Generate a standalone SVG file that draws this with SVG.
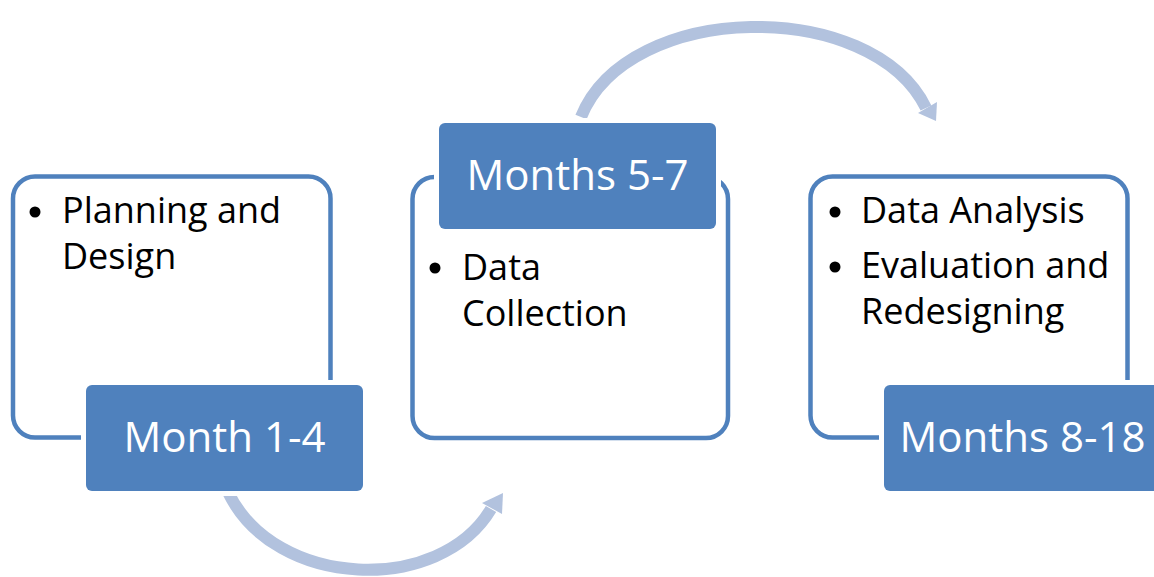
<svg xmlns="http://www.w3.org/2000/svg" width="1154" height="577" viewBox="0 0 1154 577">
  <defs>
    <style>
      .outer { fill: #FFFFFF; stroke: #4F81BD; stroke-width: 4.5; }
      .label { fill: #4F81BD; stroke: #FFFFFF; stroke-width: 10; paint-order: stroke; }
      .ltext { font-family: "Open Sans", "DejaVu Sans", sans-serif; font-size: 42px; fill: #FFFFFF; text-anchor: middle; }
      .btext { font-family: "Open Sans", "DejaVu Sans", sans-serif; font-size: 36px; fill: #000000; }
      .bullet { fill: #000000; }
      .shaft { fill: none; stroke: #B2C2DE; stroke-width: 12; }
      .head { fill: #B2C2DE; }
    </style>
  </defs>
  <rect width="1154" height="577" fill="#FFFFFF"/>

  <g id="connectors">
    <path class="shaft" d="M 228 492 C 275 590, 440 595, 491 509"/>
    <polygon class="head" points="503,493 482,503 502,514"/>
    <path class="shaft" d="M 581 117 C 628 0, 872 -3, 926 108"/>
    <polygon class="head" points="936,121 918,113 937,102"/>
  </g>

  <g id="node-1">
    <rect class="outer" x="13" y="176.5" width="317.5" height="261" rx="22"/>
    <circle class="bullet" cx="35" cy="212" r="5.5"/>
    <text class="btext" x="62" y="223">Planning and</text>
    <text class="btext" x="62" y="269">Design</text>
    <rect class="label" x="86" y="385" width="277" height="106" rx="6"/>
    <text class="ltext" x="224.5" y="452">Month 1-4</text>
  </g>

  <g id="node-2">
    <rect class="outer" x="412.5" y="177" width="315.5" height="261" rx="22"/>
    <circle class="bullet" cx="435" cy="268" r="5.5"/>
    <text class="btext" x="462" y="280">Data</text>
    <text class="btext" x="462" y="326">Collection</text>
    <rect class="label" x="439" y="123" width="277" height="106" rx="6"/>
    <text class="ltext" x="577.5" y="190">Months 5-7</text>
  </g>

  <g id="node-3">
    <rect class="outer" x="810.5" y="176.5" width="317" height="261" rx="22"/>
    <circle class="bullet" cx="835" cy="212" r="5.5"/>
    <text class="btext" x="861" y="223">Data Analysis</text>
    <circle class="bullet" cx="835" cy="267" r="5.5"/>
    <text class="btext" x="861" y="278">Evaluation and</text>
    <text class="btext" x="861" y="324">Redesigning</text>
    <rect class="label" x="884" y="385" width="277" height="106" rx="6"/>
    <text class="ltext" x="1022.5" y="452">Months 8-18</text>
  </g>
</svg>
